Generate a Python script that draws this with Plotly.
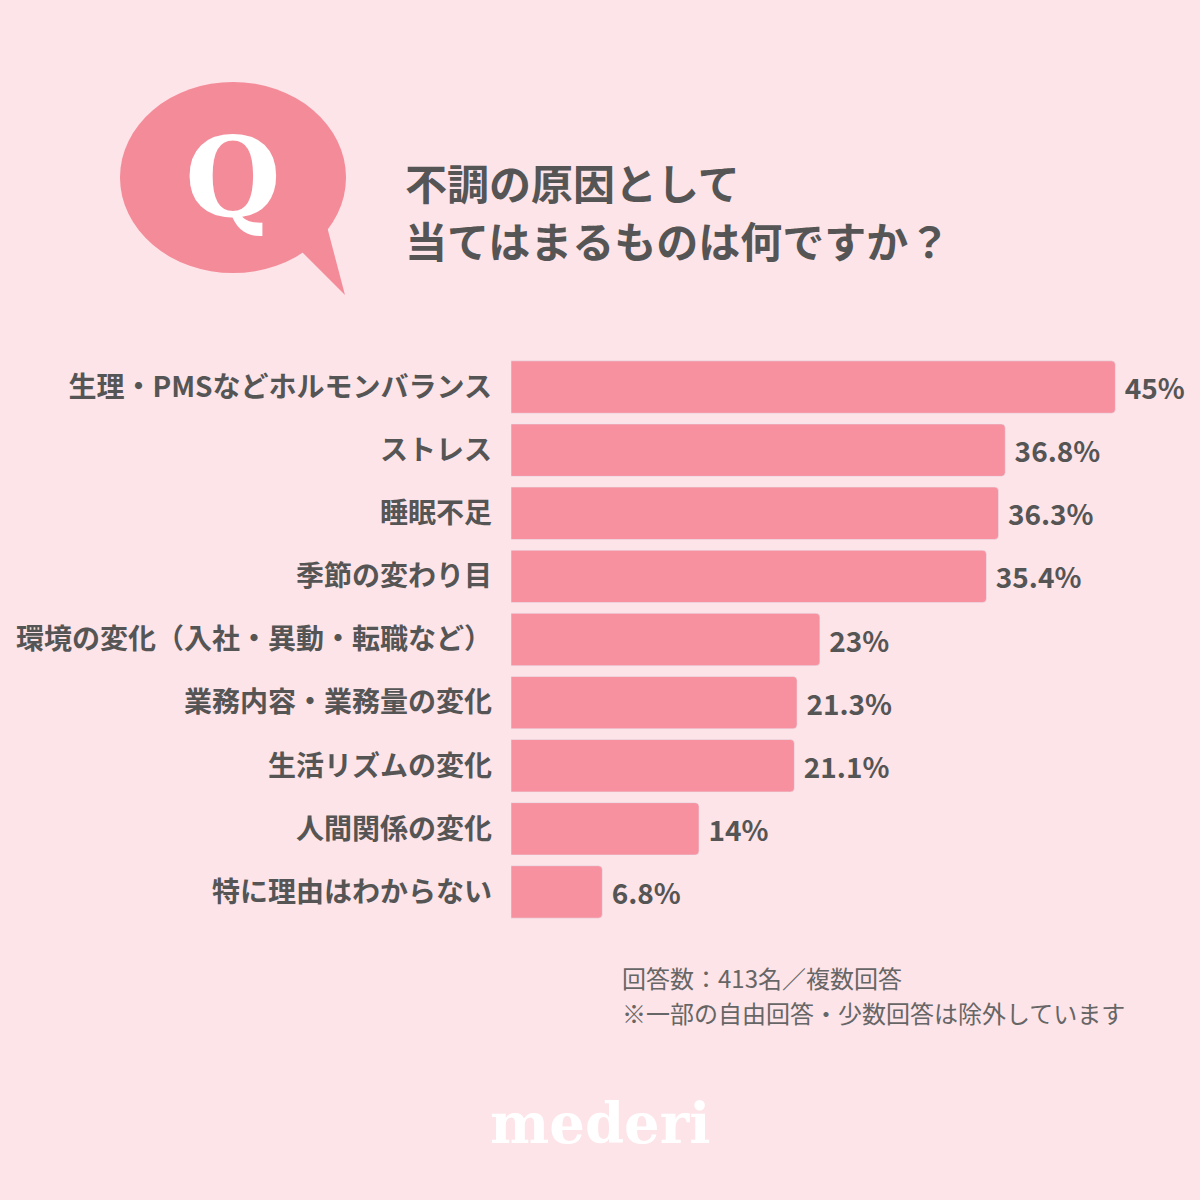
import plotly.graph_objects as go

categories = ['生理・PMSなどホルモンバランス', 'ストレス', '睡眠不足', '季節の変わり目',
              '環境の変化（入社・異動・転職など）', '業務内容・業務量の変化', '生活リズムの変化',
              '人間関係の変化', '特に理由はわからない']
values = [45, 36.8, 36.3, 35.4, 23, 21.3, 21.1, 14, 6.8]
labels = ['45%', '36.8%', '36.3%', '35.4%', '23%', '21.3%', '21.1%', '14%', '6.8%']

BG = '#fde4e8'
BAR = '#f7909f'
TXT = '#555555'
FONT = 'Noto Sans CJK JP'
W = H = 1200


def px(x, y):
    return x / W, 1 - y / H


fig = go.Figure(go.Bar(
    x=values, y=categories, orientation='h',
    marker=dict(color=BAR, cornerradius=4),
    width=0.83,
    text=['<b> %s</b>' % t for t in labels], textposition='outside',
    textfont=dict(size=28, color=TXT, family=FONT),
    cliponaxis=False,
))

fig.update_layout(
    width=W, height=H, paper_bgcolor=BG, plot_bgcolor=BG,
    margin=dict(l=0, r=0, t=0, b=0), showlegend=False,
    font=dict(family=FONT, color=TXT),
    xaxis=dict(domain=[511 / W, 1], range=[0, 51.3], visible=False),
    yaxis=dict(domain=[1 - 923.5 / H, 1 - 355.5 / H], autorange='reversed',
               tickmode='array', tickvals=categories,
               ticktext=['<b>%s</b>' % c for c in categories],
               tickfont=dict(size=28, color=TXT, family=FONT),
               ticklabelstandoff=18, showgrid=False, zeroline=False, showline=False,
               ticks=''),
)

# speech bubble
fig.add_shape(type='path', xref='paper', yref='paper',
              path='M %f %f L %f %f L %f %f Z' % (*px(280, 230), *px(345, 295), *px(320, 200)),
              fillcolor='#f48b99', line_width=0)
fig.add_shape(type='circle', xref='paper', yref='paper',
              x0=120 / W, x1=346 / W, y0=1 - 273 / H, y1=1 - 82 / H,
              fillcolor='#f48b99', line_width=0)
fig.add_annotation(x=233 / W, y=1 - 178 / H, xref='paper', yref='paper',
                   xanchor='center', yanchor='middle',
                   text='<b>Q</b>', showarrow=False,
                   font=dict(size=110, color='white', family='DejaVu Serif'))

for txt, yy in [('不調の原因として', 182), ('当てはまるものは何ですか？', 240)]:
    fig.add_annotation(x=403 / W, y=1 - yy / H, xref='paper', yref='paper',
                       xanchor='left', yanchor='middle',
                       text='<b>%s</b>' % txt, showarrow=False,
                       font=dict(size=42, color=TXT, family=FONT))

for txt, yy in [('回答数：413名／複数回答', 978), ('※一部の自由回答・少数回答は除外しています', 1012)]:
    fig.add_annotation(x=620 / W, y=1 - yy / H, xref='paper', yref='paper',
                       xanchor='left', yanchor='middle', text=txt, showarrow=False,
                       font=dict(size=24, color='#666666', family=FONT))

fig.add_annotation(x=600 / W, y=1 - 1123 / H, xref='paper', yref='paper',
                   xanchor='center', yanchor='middle',
                   text='<b>mederi</b>', showarrow=False,
                   font=dict(size=56, color='white', family='DejaVu Serif'))

fig.write_html('out.html', config={'displayModeBar': False},
               post_script="document.body.style.margin='0';")
